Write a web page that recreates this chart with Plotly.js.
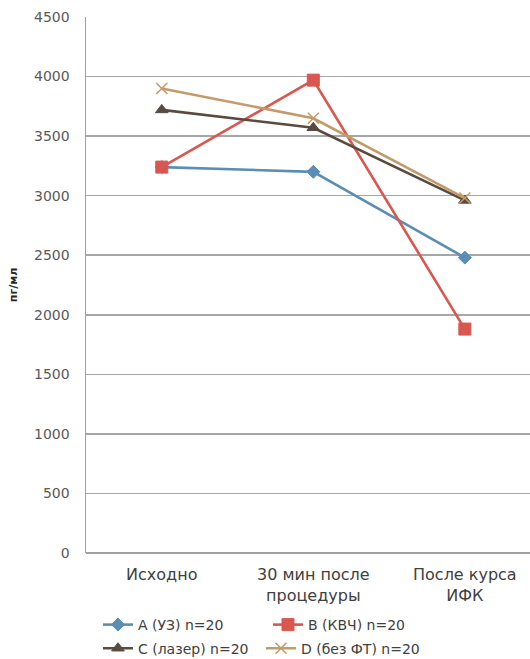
<!DOCTYPE html>
<html>
<head>
<meta charset="utf-8">
<script src="https://cdn.plot.ly/plotly-3.0.1.min.js"></script>
<style>
  html, body { margin: 0; padding: 0; background: #ffffff; }
  #chart { width: 530px; height: 659px; }
</style>
</head>
<body>
<div id="chart"></div>
<script>
// Time points of measurement
const categories = ['Исходно', '30 мин после<br>процедуры', 'После курса<br>ИФК'];

// Group names shown in the legend
const seriesNames = ['A (УЗ) n=20', 'B (КВЧ) n=20', 'C (лазер) n=20', 'D (без ФТ) n=20'];

// Concentration, pg/ml, per group
const groupA = [3240, 3200, 2480];
const groupB = [3240, 3970, 1880];
const groupC = [3720, 3570, 2960];
const groupD = [3900, 3650, 2980];

// Y axis ticks
const yTicks = [0, 500, 1000, 1500, 2000, 2500, 3000, 3500, 4000, 4500];

const font = 'DejaVu Sans, sans-serif';
const gridColor = '#a6a6a6';

const styles = [
  { color: '#5b8db5', symbol: 'diamond', size: 10, lineW: 1, legend: 'legend' },
  { color: '#d9574f', symbol: 'square', size: 12, lineW: 1, legend: 'legend' },
  { color: '#5b4a40', symbol: 'triangle-up', size: 11, lineW: 1, legend: 'legend2' },
  { color: '#c39a6a', symbol: 'x-thin', size: 11, lineW: 1.6, legend: 'legend2' }
];

const values = [groupA, groupB, groupC, groupD];

const traces = values.map((vals, i) => ({
  type: 'scatter',
  mode: 'lines+markers',
  x: [0, 1, 2],
  y: vals,
  name: seriesNames[i],
  legend: styles[i].legend,
  line: { color: styles[i].color, width: 2.6 },
  marker: {
    symbol: styles[i].symbol,
    size: styles[i].size,
    color: styles[i].color,
    line: { color: styles[i].color, width: styles[i].lineW }
  },
  hoverinfo: 'x+y+name'
}));

const legendFont = { family: font, size: 14, color: '#404040' };

const layout = {
  width: 530,
  height: 659,
  paper_bgcolor: '#ffffff',
  plot_bgcolor: '#ffffff',
  margin: { l: 86, r: 0, t: 17, b: 106, autoexpand: false },
  showlegend: true,
  font: { family: font, color: '#595959', size: 13 },
  xaxis: {
    range: [-0.5, 2.43],
    tickmode: 'array',
    tickvals: [0, 1, 2],
    ticktext: categories,
    showgrid: false,
    zeroline: false,
    showline: false,
    ticks: '',
    ticklabelstandoff: 10,
    tickfont: { family: font, size: 16, color: '#404040' },
    fixedrange: true
  },
  yaxis: {
    range: [0, 4500],
    tickmode: 'array',
    tickvals: yTicks,
    ticktext: yTicks.map(String),
    showgrid: true,
    gridcolor: gridColor,
    gridwidth: 1.5,
    zeroline: true,
    zerolinecolor: '#a0a0a0',
    zerolinewidth: 2,
    showline: true,
    linecolor: '#a0a0a0',
    linewidth: 1.5,
    ticks: '',
    ticklabelstandoff: 12,
    tickfont: { family: font, size: 14, color: '#595959' },
    title: { text: '<b>пг/мл</b>', font: { family: font, size: 11, color: '#262626' }, standoff: 14 },
    fixedrange: true
  },
  legend: {
    orientation: 'h',
    x: 0.027,
    xanchor: 'left',
    y: -0.1045,
    yanchor: 'top',
    entrywidth: 125,
    itemwidth: 30,
    font: legendFont
  },
  legend2: {
    orientation: 'h',
    x: 0.027,
    xanchor: 'left',
    y: -0.1485,
    yanchor: 'top',
    entrywidth: 118,
    itemwidth: 30,
    font: legendFont
  }
};

Plotly.newPlot('chart', traces, layout, { displayModeBar: false, staticPlot: true });
</script>
</body>
</html>
